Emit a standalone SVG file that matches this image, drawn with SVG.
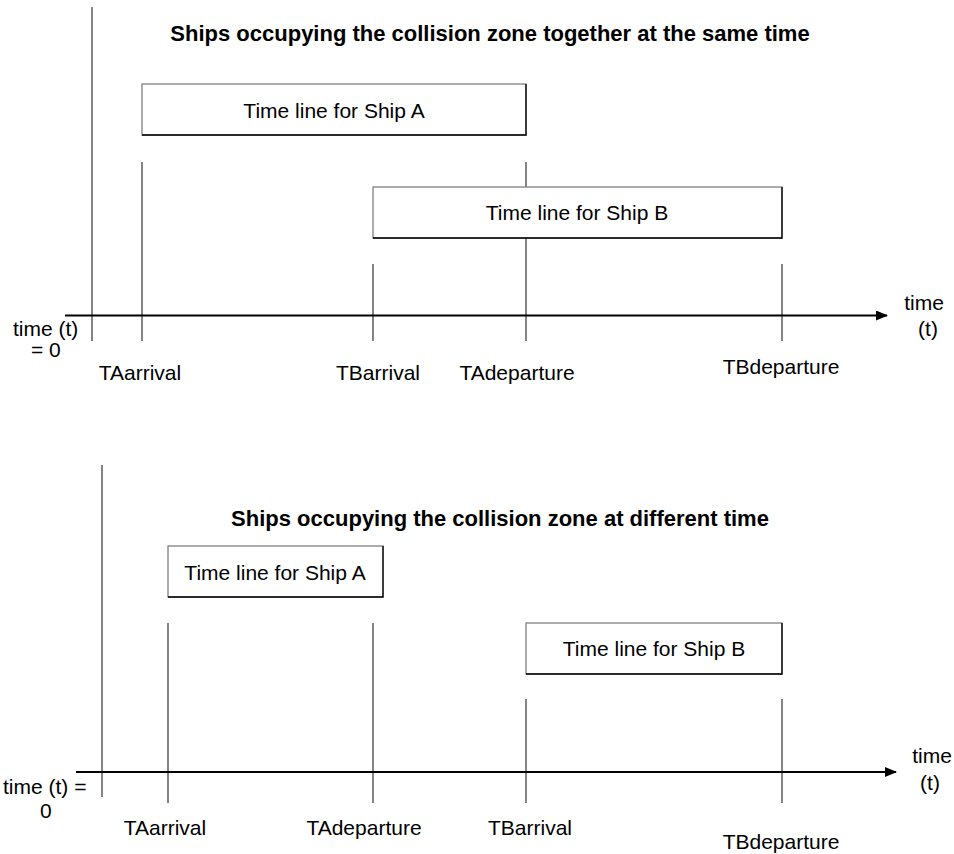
<svg xmlns="http://www.w3.org/2000/svg" width="954" height="854" viewBox="0 0 954 854">
<style>
text{font-family:"Liberation Sans",Arial,sans-serif;font-size:21px;fill:#000}
.title{font-weight:bold;font-size:22px;text-anchor:middle}
.c{text-anchor:middle}
.box{fill:#fff;stroke:#808080;stroke-width:1.3}
.edge{fill:none;stroke:#000;stroke-width:1.3}
.tick{stroke:#333;stroke-width:1.2}
.axis{stroke:#000;stroke-width:2.2;fill:none}
</style>
<defs>
<marker id="arr" viewBox="0 0 12 10" refX="11" refY="5" markerWidth="12" markerHeight="10" markerUnits="userSpaceOnUse" orient="auto">
<path d="M0,0 L12,5 L0,10 z" fill="#000"/>
</marker>
</defs>

<g id="connectors">
<!-- top diagram -->
<line class="tick" x1="92" y1="7" x2="92" y2="341"/>
<line class="tick" x1="142" y1="162" x2="142" y2="341"/>
<line class="tick" x1="526" y1="162" x2="526" y2="341"/>
<line class="tick" x1="373" y1="264" x2="373" y2="341"/>
<line class="tick" x1="782" y1="264" x2="782" y2="341"/>
<line class="axis" x1="65" y1="315.5" x2="887" y2="315.5" marker-end="url(#arr)"/>
<!-- bottom diagram -->
<line class="tick" x1="102" y1="465" x2="102" y2="797"/>
<line class="tick" x1="168" y1="623" x2="168" y2="803"/>
<line class="tick" x1="373" y1="623" x2="373" y2="803"/>
<line class="tick" x1="526" y1="699" x2="526" y2="803"/>
<line class="tick" x1="782" y1="699" x2="782" y2="803"/>
<line class="axis" x1="76" y1="772" x2="896" y2="772" marker-end="url(#arr)"/>
</g>

<g id="title-top"><text class="title" x="490" y="41">Ships occupying the collision zone together at the same time</text></g>

<g id="shipA-top">
<rect class="box" x="142" y="84" width="384" height="51"/>
<path class="edge" d="M142,135 H526 V84"/>
<text class="c" x="334" y="118">Time line for Ship A</text>
</g>
<g id="shipB-top">
<rect class="box" x="373" y="187" width="409" height="51"/>
<path class="edge" d="M373,238 H782 V187"/>
<text class="c" x="577" y="220">Time line for Ship B</text>
</g>

<g id="labels-top">
<text x="13" y="336">time (t)</text>
<text x="31" y="357">= 0</text>
<text class="c" x="924" y="310">time</text>
<text class="c" x="928" y="336">(t)</text>
<text class="c" x="140" y="380">TAarrival</text>
<text class="c" x="378" y="380">TBarrival</text>
<text class="c" x="517" y="380">TAdeparture</text>
<text class="c" x="781" y="374">TBdeparture</text>
</g>

<g id="title-bottom"><text class="title" x="500" y="526">Ships occupying the collision zone at different time</text></g>

<g id="shipA-bottom">
<rect class="box" x="168" y="546" width="215" height="51"/>
<path class="edge" d="M168,597 H383 V546"/>
<text class="c" x="275" y="580">Time line for Ship A</text>
</g>
<g id="shipB-bottom">
<rect class="box" x="526" y="623" width="256" height="51"/>
<path class="edge" d="M526,674 H782 V623"/>
<text class="c" x="654" y="656">Time line for Ship B</text>
</g>

<g id="labels-bottom">
<text x="3" y="794">time (t) =</text>
<text x="40" y="818">0</text>
<text class="c" x="932" y="763">time</text>
<text class="c" x="930" y="790">(t)</text>
<text class="c" x="165" y="835">TAarrival</text>
<text class="c" x="364" y="835">TAdeparture</text>
<text class="c" x="530" y="835">TBarrival</text>
<text class="c" x="781" y="849">TBdeparture</text>
</g>
</svg>
